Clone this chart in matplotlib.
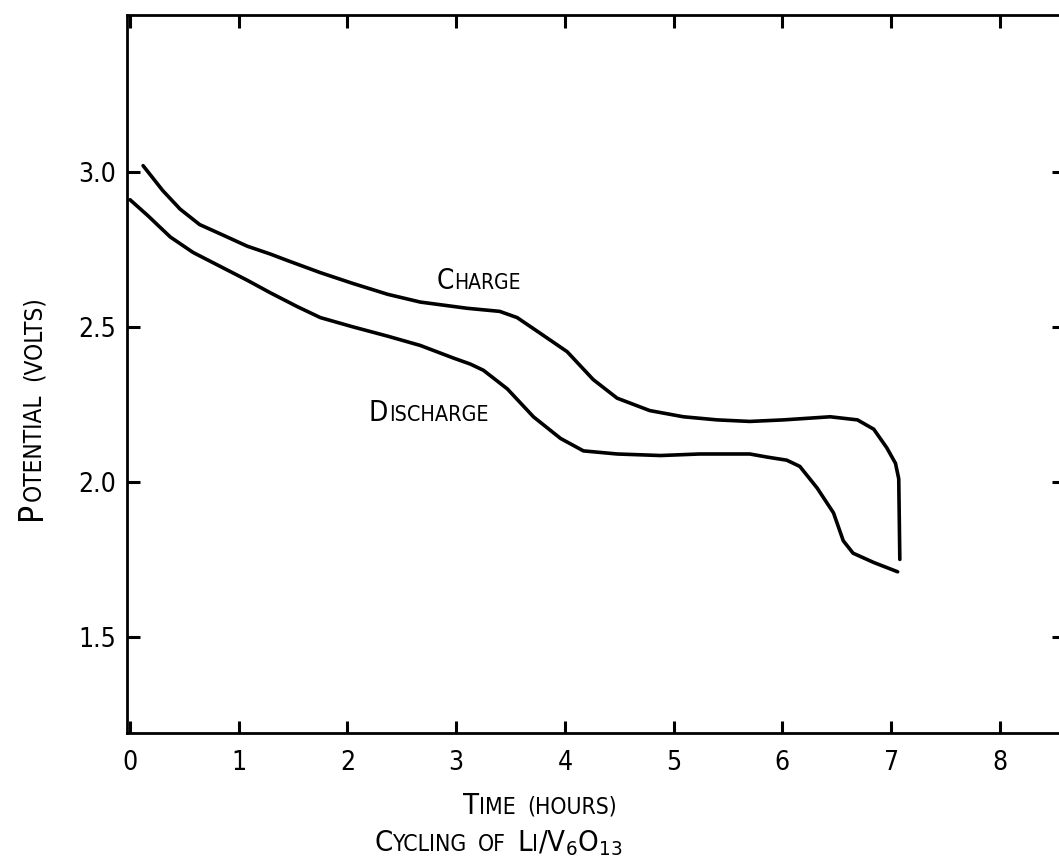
import matplotlib
matplotlib.use("Agg")
import matplotlib.pyplot as plt
from matplotlib.font_manager import FontProperties
from matplotlib.transforms import IdentityTransform

# Cell potential during one charge / discharge cycle
charge_hours = [0.12, 0.30, 0.46, 0.64, 0.83, 1.08, 1.29, 1.44, 1.75, 2.05,
                2.37, 2.67, 3.10, 3.40, 3.56, 3.77, 4.02, 4.26, 4.48, 4.78,
                5.09, 5.40, 5.70, 6.01, 6.44, 6.69, 6.84, 6.96, 7.04, 7.07, 7.08]
charge_volts = [3.02, 2.94, 2.88, 2.83, 2.80, 2.76, 2.735, 2.715, 2.675, 2.64,
                2.605, 2.58, 2.56, 2.55, 2.53, 2.48, 2.42, 2.33, 2.27, 2.23,
                2.21, 2.20, 2.195, 2.20, 2.21, 2.20, 2.17, 2.11, 2.06, 2.01, 1.75]

discharge_hours = [0.00, 0.16, 0.37, 0.58, 0.83, 1.08, 1.29, 1.54, 1.75, 2.05,
                   2.37, 2.67, 2.97, 3.13, 3.25, 3.47, 3.71, 3.96, 4.17, 4.48,
                   4.88, 5.24, 5.70, 5.86, 6.04, 6.16, 6.32, 6.47, 6.56, 6.65,
                   6.84, 7.06]
discharge_volts = [2.91, 2.86, 2.79, 2.74, 2.695, 2.65, 2.61, 2.565, 2.53, 2.50,
                   2.47, 2.44, 2.40, 2.38, 2.36, 2.30, 2.21, 2.14, 2.10, 2.09,
                   2.085, 2.09, 2.09, 2.08, 2.07, 2.05, 1.98, 1.90, 1.81, 1.77,
                   1.74, 1.71]

x_ticks = [0, 1, 2, 3, 4, 5, 6, 7, 8]
y_ticks = [1.5, 2.0, 2.5, 3.0]
y_tick_labels = ["1.5", "2.0", "2.5", "3.0"]

FAMILY = ["DejaVu Sans"]
STRETCH = "condensed"

W, H = 1059, 867
fig = plt.figure(figsize=(W / 100, H / 100), dpi=100)
ax = fig.add_axes([127 / W, 134 / H, (1064 - 127) / W, 718 / H])

ax.plot(charge_hours, charge_volts, color="black", lw=2.6,
        solid_capstyle="round", solid_joinstyle="round")
ax.plot(discharge_hours, discharge_volts, color="black", lw=2.6,
        solid_capstyle="round", solid_joinstyle="round")

ax.set_xlim(-0.028, 8.59)
ax.set_ylim(1.19, 3.506)
ax.set_xticks(x_ticks)
ax.set_xticklabels([str(t) for t in x_ticks])
ax.set_yticks(y_ticks)
ax.set_yticklabels(y_tick_labels)

for s in ax.spines.values():
    s.set_linewidth(2.0)
ax.tick_params(direction="in", length=9, width=2.2, top=True, right=True,
               labelsize=19)
ax.tick_params(axis="x", pad=12)
ax.tick_params(axis="y", pad=8)
for lab in ax.get_xticklabels() + ax.get_yticklabels():
    lab.set_family(FAMILY)
    lab.set_fontstretch(STRETCH)


def caps_label(x, y, runs, transform, rotation=0, ha="center"):
    """Draw small-capitals text: runs of (text, size, gap_before_pt)."""
    renderer = fig.canvas.get_renderer()
    sizes = []
    for text, size, gap in runs:
        prop = FontProperties(family=FAMILY, size=size, stretch=STRETCH)
        w, _, _ = renderer.get_text_width_height_descent(
            text, prop, ismath=("$" in text))
        sizes.append((gap * fig.dpi / 72.0, w))
    total = sum(g + w for g, w in sizes)
    x0, y0 = transform.transform((x, y))
    pos = -total / 2 if ha == "center" else 0.0
    for (text, size, _), (g, w) in zip(runs, sizes):
        pos += g
        if rotation == 0:
            px, py = x0 + pos, y0
        else:
            px, py = x0, y0 + pos
        fig.text(px, py, text, transform=IdentityTransform(), fontsize=size,
                 family=FAMILY, fontstretch=STRETCH, ha="left", va="baseline",
                 rotation=rotation, rotation_mode="anchor")
        pos += w


px_tr = IdentityTransform()

# curve annotations
caps_label(2.82, 2.623, [("C", 20, 0), ("HARGE", 15, 0)],
           ax.transData, ha="left")
caps_label(2.19, 2.197, [("D", 20, 0), ("ISCHARGE", 15.5, 1)],
           ax.transData, ha="left")

# axis titles
caps_label(540, 53, [("T", 21, 0), ("IME", 16.5, 0), ("(HOURS)", 16.5, 8)],
           px_tr)
caps_label(498, 16, [("C", 21, 0), ("YCLING", 16.5, 0), ("OF", 16.5, 8),
                     ("L", 21, 8), ("I", 16.5, 0),
                     (r"/V$_\mathregular{6}$O$_\mathregular{13}$", 21, 0)],
           px_tr)
caps_label(41, 459, [("P", 24, 0), ("OTENTIAL", 17.5, 0), ("(VOLTS)", 17.5, 9)],
           px_tr, rotation=90)

fig.savefig("out.png", dpi=100)
